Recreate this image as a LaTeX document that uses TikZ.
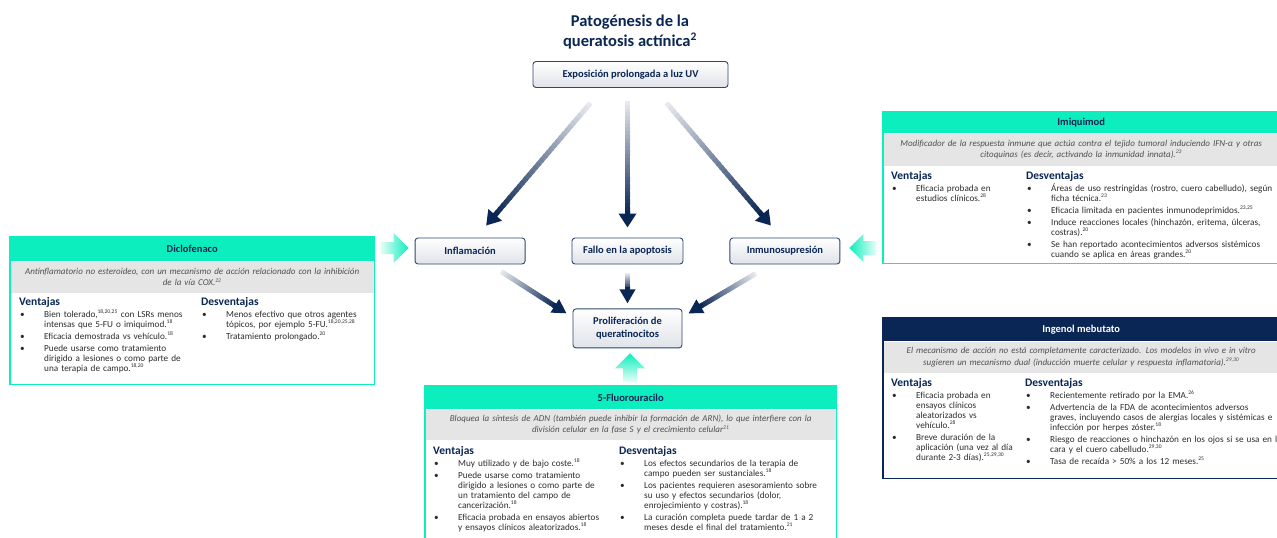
\documentclass[tikz,border=0pt]{standalone}
\usepackage{fontspec}
\setmainfont{Carlito}
\usepackage{xcolor}
\usetikzlibrary{arrows.meta, calc, positioning}
\definecolor{navy}{RGB}{10,38,84}
\definecolor{aqua}{RGB}{12,238,190}
\definecolor{band}{RGB}{229,229,229}
\definecolor{bodytxt}{RGB}{45,45,45}
\definecolor{desctxt}{RGB}{80,80,80}
\newcommand{\refs}[1]{\textsuperscript{\fontsize{5.6}{6}\selectfont #1}}
\newcommand{\colttl}[1]{{\fontsize{11.5}{12}\selectfont\bfseries\color{navy}#1}}
\newcommand{\pto}[1]{\par\noindent\hangindent=25pt\hangafter=1%
  \makebox[25pt][l]{\hspace{1pt}\textbullet}#1}
% shaded navy arrow: from, to, head width
\newcommand{\fadearrow}[3]{%
  \coordinate (fa) at ($(#2)!13pt!(#1)$);
  \foreach \k in {0,...,29}{%
    \pgfmathsetmacro{\ka}{\k/30}
    \pgfmathsetmacro{\kb}{min((\k+1.4)/30,1)}
    \pgfmathtruncatemacro{\kc}{10+90*\k/29}
    \draw[line width=5pt, navy!\kc] ($(#1)!\ka!(fa)$) -- ($(#1)!\kb!(fa)$);
  }
  \draw[line width=5pt, navy, -{Triangle[width=#3, length=14pt]}]
    ($(#2)!16pt!(#1)$) -- (#2);
}

\begin{document}
\begin{tikzpicture}[
    x=1pt, y=-1pt,
    title/.style ={align=center, text=navy, inner sep=0,
                   font=\fontsize{16.5}{20}\selectfont\bfseries},
    stage/.style ={draw=navy!85, line width=0.9pt, rounded corners=3pt,
                   top color=white, bottom color=navy!13, text=navy,
                   align=center, inner sep=2pt,
                   font=\fontsize{10.5}{13}\selectfont\bfseries,
                   minimum width=110, minimum height=26},
    panel/.style  ={anchor=north west, inner sep=0},
    headbar/.style={anchor=north west, fill=aqua, text=navy, inner sep=0,
                   font=\fontsize{10.5}{12}\selectfont\bfseries},
    darkbar/.style={headbar, fill=navy, text=white},
    descbar/.style={anchor=north, fill=band, text=desctxt, align=center,
                   inner xsep=6pt, inner ysep=2pt,
                   font=\fontsize{9}{11.5}\selectfont\itshape},
    col/.style    ={anchor=north west, align=left, text=bodytxt, inner sep=0,
                   font=\fontsize{9.2}{10}\selectfont\setlength{\parskip}{2pt}},
    aquaframe/.style={draw=aqua, line width=1.6pt},
    navyframe/.style={draw=navy, line width=1.6pt},
]
\useasboundingbox (0,0) rectangle (1277,538);
\fill[white] (0,0) rectangle (1277,538);

% central pathway
\node[title] (ttl) at (630,32) {Patogénesis de la\\queratosis actínica\textsuperscript{2}};
\node[stage, minimum width=195] (uv) at (630.5,74.5) {Exposición prolongada a luz UV};
\node[stage, minimum width=111] (fallo) at (627.5,251) {Fallo en la apoptosis};
\node[stage, left=46pt of fallo]  (infl) {Inflamación};
\node[stage, right=46pt of fallo] (inmu) {Inmunosupresión};
\node[stage, below=44pt of fallo, minimum width=109, minimum height=39] (prol)
     {Proliferación de\\queratinocitos};

\coordinate (uvL)     at ($(uv.south)+(-40,15)$);
\coordinate (uvM)     at ($(fallo.north |- uv.south)+(0,13)$);
\coordinate (uvR)     at ($(uv.south)+(36,15)$);
\coordinate (inflIn)  at ($(infl.north)+(16,-12)$);
\coordinate (falloIn) at ($(fallo.north)+(0,-10)$);
\coordinate (inmuIn)  at ($(inmu.north)+(-14,-12)$);
\coordinate (inflOut) at ($(infl.south)+(31,7)$);
\coordinate (falloOut)at ($(fallo.south)+(0,9)$);
\coordinate (inmuOut) at ($(inmu.south)+(-29,9)$);
\coordinate (prolL)   at ($(prol.west)+(-6,-15)$);
\coordinate (prolT)   at ($(prol.north)+(0,-5)$);
\coordinate (prolR)   at ($(prol.east)+(6,-15)$);

\fadearrow{uvL}{inflIn}{17pt}
\fadearrow{uvM}{falloIn}{17pt}
\fadearrow{uvR}{inmuIn}{17pt}
\fadearrow{inflOut}{prolL}{15pt}
\fadearrow{falloOut}{prolT}{15pt}
\fadearrow{inmuOut}{prolR}{15pt}

% treatment arrows
\shade[left color=aqua!10, right color=aqua] ($(infl.west)+(-6,-3)$)
      -- ++(-15,-15) -- ++(0,9) -- ++(-13,0) -- ++(0,12) -- ++(13,0) -- ++(0,9) -- cycle;
\shade[left color=aqua, right color=aqua!10] ($(inmu.east)+(9,-3)$)
      -- ++(14,-14) -- ++(0,7) -- ++(13,0) -- ++(0,14) -- ++(-13,0) -- ++(0,7) -- cycle;
\shade[top color=aqua, bottom color=aqua!8] ($(prol.south)+(2.5,5)$)
      -- ++(15,15) -- ++(-8,0) -- ++(0,14) -- ++(-14,0) -- ++(0,-14) -- ++(-8,0) -- cycle;

% Diclofenaco
\node[panel, minimum width=364, minimum height=147] (dicl) at (10,237) {};
\node[headbar, minimum width=364, minimum height=24] (diclH) at (dicl.north west) {Diclofenaco};
\node[descbar, text width=352, minimum height=31] (diclD) at (diclH.south)
  {Antinflamatorio no esteroideo, con un mecanismo de acción relacionado con la inhibición\\
   de la vía COX.\refs{22}};
\node[col, text width=178] (diclV) at ($(diclD.south west)+(9,4)$) {\colttl{Ventajas}
  \pto{Bien tolerado,\refs{18,20,25} con LSRs menos\newline intensas que 5-FU o imiquimod.\refs{18}}
  \pto{Eficacia demostrada vs vehículo.\refs{18}}
  \pto{Puede usarse como tratamiento\newline dirigido a lesiones o como parte de\newline
       una terapia de campo.\refs{18,20}}\par};
\node[col, text width=172] (diclX) at ($(diclD.south west)+(191,4)$) {\colttl{Desventajas}
  \pto{Menos efectivo que otros agentes\newline tópicos, por ejemplo 5-FU.\refs{18,20,25,28}}
  \pto{Tratamiento prolongado.\refs{20}}\par};

% Imiquimod
\node[panel, minimum width=396, minimum height=151] (imiq) at (883,112) {};
\node[headbar, minimum width=396, minimum height=21] (imiqH) at (imiq.north west) {Imiquimod};
\node[descbar, text width=384, minimum height=32] (imiqD) at (imiqH.south)
  {Modificador de la respuesta inmune que actúa contra el tejido tumoral induciendo IFN-α y otras\\
   citoquinas (es decir, activando la inmunidad innata).\refs{23}};
\node[col, text width=130] (imiqV) at ($(imiqD.south west)+(8,5)$) {\colttl{Ventajas}
  \pto{Eficacia probada en\newline estudios clínicos.\refs{28}}\par};
\node[col, text width=250] (imiqX) at ($(imiqD.south west)+(143,5)$) {\colttl{Desventajas}
  \pto{Áreas de uso restringidas (rostro, cuero cabelludo), según\newline ficha técnica.\refs{23}}
  \pto{Eficacia limitada en pacientes inmunodeprimidos.\refs{23,25}}
  \pto{Induce reacciones locales (hinchazón, eritema, úlceras,\newline costras).\refs{20}}
  \pto{Se han reportado acontecimientos adversos sistémicos\newline
       cuando se aplica en áreas grandes.\refs{20}}\par};

% Ingenol mebutato
\node[panel, minimum width=396, minimum height=160] (ingn) at (883,318) {};
\node[darkbar, minimum width=396, minimum height=23] (ingnH) at (ingn.north west) {Ingenol mebutato};
\node[descbar, text width=384, minimum height=31] (ingnD) at (ingnH.south)
  {El mecanismo de acción no está completamente caracterizado. Los modelos in vivo e in vitro\\
   sugieren un mecanismo dual (inducción muerte celular y respuesta inflamatoria).\refs{29,30}};
\node[col, text width=130] (ingnV) at ($(ingnD.south west)+(8,5)$) {\colttl{Ventajas}
  \pto{Eficacia probada en\newline ensayos clínicos\newline aleatorizados vs\newline vehículo.\refs{28}}
  \pto{Breve duración de la\newline aplicación (una vez al día\newline durante 2-3 días).\refs{25,29,30}}\par};
\node[col, text width=260] (ingnX) at ($(ingnD.south west)+(142,5)$) {\colttl{Desventajas}
  \pto{Recientemente retirado por la EMA.\refs{26}}
  \pto{Advertencia de la FDA de acontecimientos adversos\newline
       graves, incluyendo casos de alergias locales y sistémicas e\newline
       infección por herpes zóster.\refs{18}}
  \pto{Riesgo de reacciones o hinchazón en los ojos si se usa en la\newline
       cara y el cuero cabelludo.\refs{29,30}}
  \pto{Tasa de recaída > 50\% a los 12 meses.\refs{25}}\par};

% 5-Fluorouracilo
\node[panel, minimum width=411, minimum height=160] (fluo) at (425,386) {};
\node[headbar, minimum width=411, minimum height=23] (fluoH) at (fluo.north west) {5-Fluorouracilo};
\node[descbar, text width=399, minimum height=30] (fluoD) at (fluoH.south)
  {Bloquea la síntesis de ADN (también puede inhibir la formación de ARN), lo que interfiere con la\\
   división celular en la fase S y el crecimiento celular\refs{21}};
\node[col, text width=180] (fluoV) at ($(fluoD.south west)+(8,6)$) {\colttl{Ventajas}
  \pto{Muy utilizado y de bajo coste.\refs{18}}
  \pto{Puede usarse como tratamiento\newline dirigido a lesiones o como parte de\newline
       un tratamiento del campo de\newline cancerización.\refs{18}}
  \pto{Eficacia probada en ensayos abiertos\newline y ensayos clínicos aleatorizados.\refs{18}}\par};
\node[col, text width=210] (fluoX) at ($(fluoD.south west)+(194,6)$) {\colttl{Desventajas}
  \pto{Los efectos secundarios de la terapia de\newline campo pueden ser sustanciales.\refs{18}}
  \pto{Los pacientes requieren asesoramiento sobre\newline su uso y efectos secundarios (dolor,\newline
       enrojecimiento y costras).\refs{18}}
  \pto{La curación completa puede tardar de 1 a 2\newline meses desde el final del tratamiento.\refs{21}}\par};

% panel frames on top
\draw[aquaframe] (dicl.north west) rectangle (dicl.south east);
\draw[aquaframe] (imiq.north west) rectangle (imiq.south east);
\draw[navyframe] (ingn.north west) rectangle (ingn.south east);
\draw[aquaframe] (fluo.north west) rectangle (fluo.south east);
\end{tikzpicture}
\end{document}
